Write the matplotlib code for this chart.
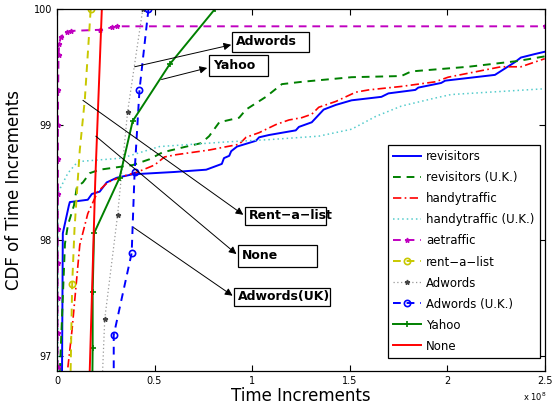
import matplotlib
matplotlib.use("Agg")
import matplotlib.pyplot as plt
from matplotlib.patches import Rectangle
from matplotlib.ticker import FuncFormatter

SCALE = 1e8

# data, x in units of 1e8
rev_x = [0.026, 0.03, 0.061, 0.066, 0.158, 0.179, 0.219, 0.255, 0.306, 0.388, 0.60, 0.765,
         0.845, 0.856, 0.883, 0.893, 0.923, 1.02, 1.036, 1.087, 1.189, 1.224, 1.24, 1.306,
         1.367, 1.429, 1.51, 1.663, 1.699, 1.837, 1.852, 1.969, 1.99, 2.245, 2.347, 2.378,
         2.449, 2.5]
rev_y = [96.87, 98.06, 98.30, 98.33, 98.35, 98.40, 98.42, 98.50, 98.54, 98.57, 98.59, 98.61,
         98.66, 98.71, 98.73, 98.77, 98.81, 98.86, 98.89, 98.91, 98.94, 98.95, 98.98, 99.02,
         99.13, 99.17, 99.21, 99.24, 99.27, 99.30, 99.32, 99.36, 99.38, 99.43, 99.54, 99.58,
         99.61, 99.63]

revuk_x = [0.015, 0.041, 0.056, 0.087, 0.102, 0.133, 0.168, 0.219, 0.388, 0.474, 0.541,
           0.663, 0.74, 0.78, 0.832, 0.934, 0.969, 1.071, 1.153, 1.255, 1.51, 1.765, 1.816,
           2.107, 2.362, 2.5]
revuk_y = [96.87, 97.97, 98.13, 98.30, 98.46, 98.50, 98.58, 98.61, 98.65, 98.70, 98.76,
           98.81, 98.84, 98.90, 99.02, 99.06, 99.13, 99.24, 99.35, 99.37, 99.41, 99.42, 99.46,
           99.50, 99.55, 99.59]

handy_x = [0.056, 0.077, 0.117, 0.158, 0.209, 0.26, 0.332, 0.413, 0.5, 0.551, 0.612, 0.78,
           0.934, 0.969, 1.036, 1.122, 1.189, 1.255, 1.306, 1.342, 1.429, 1.531, 1.597,
           1.765, 1.939, 2.005, 2.276, 2.378, 2.5]
handy_y = [96.90, 97.22, 97.96, 98.23, 98.42, 98.50, 98.55, 98.59, 98.65, 98.72, 98.74,
           98.78, 98.83, 98.89, 98.93, 99.00, 99.04, 99.06, 99.09, 99.15, 99.20, 99.28,
           99.30, 99.33, 99.37, 99.41, 99.50, 99.50, 99.57]

handyuk_x = [0.005, 0.005, 0.056, 0.107, 0.332, 0.526, 0.867, 1.087, 1.342, 1.51, 1.633,
             1.765, 1.939, 2.02, 2.5]
handyuk_y = [96.87, 98.41, 98.58, 98.68, 98.71, 98.81, 98.85, 98.87, 98.90, 98.96, 99.07,
             99.16, 99.23, 99.26, 99.31]

ae_x = [0.003, 0.003, 0.003, 0.003, 0.004, 0.004, 0.005, 0.005, 0.005, 0.006, 0.008,
        0.012, 0.02, 0.05, 0.07, 0.22, 0.28, 0.31, 2.5]
ae_y = [96.5, 96.9, 97.2, 97.5, 97.8, 98.1, 98.4, 98.7, 99.0, 99.3, 99.6, 99.70, 99.76,
        99.80, 99.81, 99.82, 99.84, 99.85, 99.85]

rent_x = [0.07, 0.078, 0.09, 0.117, 0.143, 0.173]
rent_y = [96.87, 97.62, 98.10, 98.78, 99.22, 100.0]

adw_x = [0.225, 0.245, 0.311, 0.362, 0.44]
adw_y = [96.5, 97.32, 98.22, 99.11, 100.0]

adwuk_x = [0.291, 0.291, 0.383, 0.398, 0.423, 0.469]
adwuk_y = [96.5, 97.18, 97.89, 98.59, 99.30, 100.0]

yahoo_x = [0.18, 0.183, 0.183, 0.19, 0.321, 0.388, 0.577, 0.81]
yahoo_y = [96.58, 97.07, 97.55, 98.06, 98.54, 99.03, 99.52, 100.0]

none_x = [0.168, 0.196, 0.23]
none_y = [96.87, 98.5, 100.0]

# annotation boxes: label, x0, x1, ybot, ytop, arrow tail, arrow head
boxes = [
    ("Adwords", 0.898, 1.291, 99.63, 99.80, (0.398, 99.50), (0.893, 99.69)),
    ("Yahoo", 0.781, 1.082, 99.42, 99.60, (0.536, 99.39), (0.770, 99.49)),
    ("Rent\u2212a\u2212list", 0.964, 1.378, 98.13, 98.29, (0.133, 99.21), (0.955, 98.22)),
    ("None", 0.929, 1.332, 97.77, 97.96, (0.199, 98.90), (0.920, 97.88)),
    ("Adwords(UK)", 0.908, 1.398, 97.43, 97.59, (0.393, 98.11), (0.900, 97.52)),
]

def sx(v):
    return [a * SCALE for a in v]

fig = plt.figure(figsize=(5.53, 4.08), dpi=100)
ax = fig.add_axes([0.103, 0.091, 0.882, 0.887])

ax.plot(sx(rev_x), rev_y, color="#0000ff", lw=1.4, label="revisitors")
ax.plot(sx(revuk_x), revuk_y, color="#008000", lw=1.4, ls=(0, (4, 3)), label="revisitors (U.K.)")
ax.plot(sx(handy_x), handy_y, color="#ff0000", lw=1.2, ls=(0, (5, 2, 1, 2)), label="handytraffic")
ax.plot(sx(handyuk_x), handyuk_y, color="#55cccc", lw=1.1, ls=(0, (1, 2)), label="handytraffic (U.K.)")
ax.plot(sx(ae_x), ae_y, color="#c000c0", lw=1.4, ls=(0, (4, 3)), marker="*", ms=3.5,
        label="aetraffic")
ax.plot(sx(rent_x), rent_y, color="#c8c800", lw=1.4, ls=(0, (4, 3)), marker="o", ms=4.5,
        mfc="none", mew=1.2, markevery=[1, 5], label="rent\u2212a\u2212list")
ax.plot(sx(adw_x), adw_y, color="#999999", lw=0.9, ls=(0, (1, 2)), marker="*", ms=3.5,
        mfc="#444444", mec="#444444", label="Adwords")
ax.plot(sx(adwuk_x), adwuk_y, color="#0000ff", lw=1.4, ls=(0, (4, 3)), marker="o", ms=4.5,
        mfc="none", mew=1.2, label="Adwords (U.K.)")
ax.plot(sx(yahoo_x), yahoo_y, color="#008000", lw=1.4, marker="+", ms=4, mew=1.2, label="Yahoo")
ax.plot(sx(none_x), none_y, color="#ff0000", lw=1.4, label="None")

for label, x0, x1, yb, yt, tail, head in boxes:
    ax.add_patch(Rectangle((x0 * SCALE, yb), (x1 - x0) * SCALE, yt - yb, fill=True,
                           facecolor="white", edgecolor="black", lw=0.9, clip_on=False, zorder=5))
    ax.text((x0 + 0.02) * SCALE, (yb + yt) / 2, label, fontsize=9, fontweight="bold",
            ha="left", va="center", zorder=6)
    ax.annotate("", xy=(head[0] * SCALE, head[1]), xytext=(tail[0] * SCALE, tail[1]),
                arrowprops=dict(arrowstyle="-|>", color="black", lw=0.7, mutation_scale=11,
                                shrinkA=0, shrinkB=0), zorder=6)

ax.set_xlim(0, 2.5 * SCALE)
ax.set_ylim(96.87, 100)
ax.set_xticks([0, 0.5e8, 1e8, 1.5e8, 2e8, 2.5e8])
ax.set_yticks([97, 98, 99, 100])
ax.xaxis.set_major_formatter(FuncFormatter(lambda v, p: "%g" % (v / SCALE)))
ax.tick_params(direction="in", top=True, right=True, labelsize=7, length=4, width=0.8)
for s in ax.spines.values():
    s.set_linewidth(0.9)

ax.set_xlabel("Time Increments", fontsize=12, labelpad=1)
ax.set_ylabel("CDF of Time Increments", fontsize=12, labelpad=8)
fig.text(0.945, 0.012, "x 10$^8$", fontsize=6, ha="left", va="bottom")

leg = ax.legend(loc="upper right", bbox_to_anchor=(0.99, 0.624), borderaxespad=0,
                fontsize=8.5, handlelength=2.4, labelspacing=0.68, fancybox=False,
                edgecolor="black", framealpha=1, borderpad=0.45, handletextpad=0.4)
leg.get_frame().set_linewidth(0.9)

fig.savefig("out.png", dpi=100)
